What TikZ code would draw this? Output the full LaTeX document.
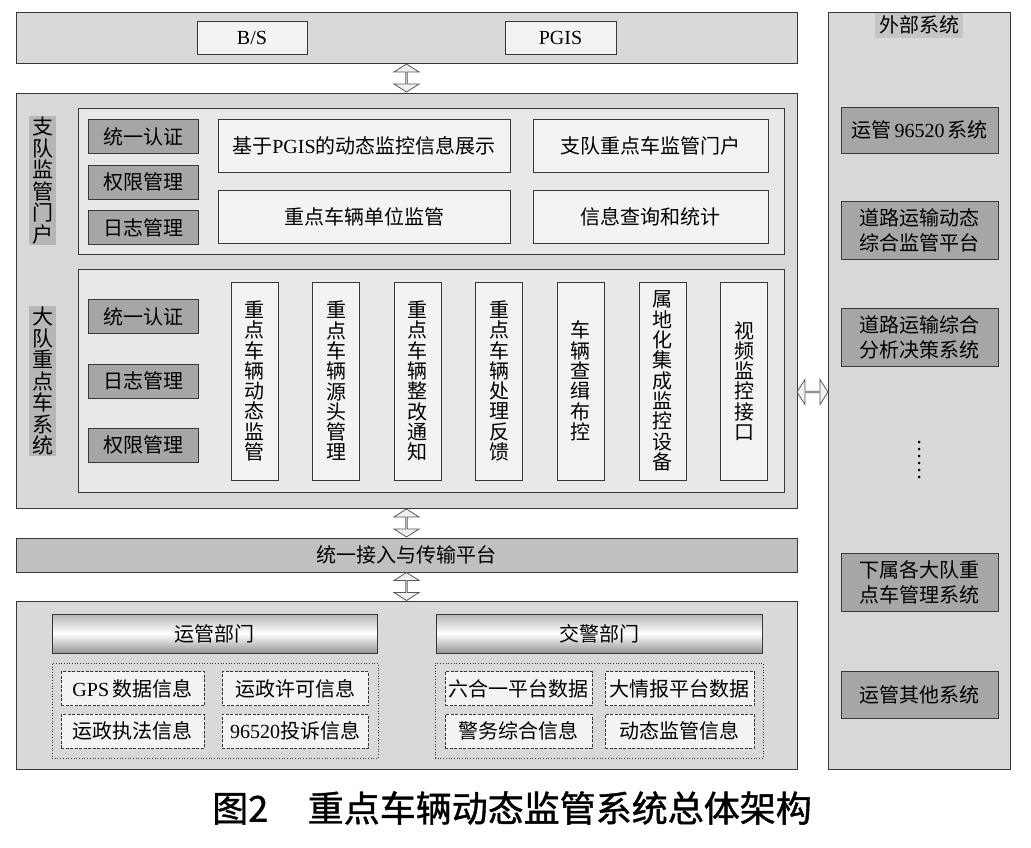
\documentclass[tikz,border=0pt]{standalone}
\usepackage{fontspec}
\setmainfont{Noto Sans CJK SC}
\newfontfamily\lat{Liberation Serif}
\newfontfamily\capfont[FakeBold=1.2]{Noto Sans CJK SC}
\usetikzlibrary{positioning,calc,shapes.arrows}
\definecolor{bgray}{RGB}{217,217,217}
\definecolor{igray}{RGB}{232,232,232}
\definecolor{lgray}{RGB}{243,243,243}
\definecolor{dgray}{RGB}{166,166,166}
\definecolor{mgray}{RGB}{182,182,182}
\definecolor{pgray}{RGB}{192,192,192}
\definecolor{lineg}{RGB}{55,55,55}
\tikzset{
     panel/.style={draw=lineg,line width=1pt,fill=bgray,inner sep=0pt},
     innerpanel/.style={draw=lineg,line width=1pt,fill=igray,inner sep=0pt},
     lbox/.style={draw=lineg,line width=1pt,fill=lgray,inner sep=0pt,align=center},
     dbox/.style={draw=lineg,line width=1pt,fill=dgray,inner sep=0pt,align=center},
     btn/.style={dbox,minimum width=110pt,minimum height=34pt},
     vbox/.style={lbox,minimum width=47pt,minimum height=198pt,text width=20pt,font=\fontsize{20}{20.3}\selectfont},
     vlabel/.style={fill=mgray,inner sep=0pt,minimum width=27pt,text width=21pt,align=center,font=\fontsize{21}{21.5}\selectfont},
     extbtn/.style={dbox,minimum width=157pt,font=\fontsize{20}{25}\selectfont},
     hdr/.style={draw=lineg,line width=1pt,top color=mgray,bottom color=dgray!90!black,middle color=white,minimum width=325pt,minimum height=39pt,inner sep=0pt},
     grp/.style={draw=lineg,dotted,line width=0.7pt,fill=bgray,minimum width=326pt,minimum height=95pt,inner sep=0pt},
     item/.style={draw=lineg,dash pattern=on 3pt off 1.5pt,line width=0.9pt,fill=lgray,minimum height=34pt,inner sep=0pt},
     fatarrow/.style={double arrow,draw=gray!70!black,fill=gray!12,line width=0.8pt,minimum height=28pt,minimum width=25pt,double arrow head extend=6.5pt,double arrow tip angle=115,inner sep=0pt}
     }

\begin{document}
\begin{tikzpicture}[x=1pt,y=-1pt,font=\fontsize{20}{24}\selectfont]
            \useasboundingbox (0,0) rectangle (1031,847);
            % Place nodes
            \node[panel,minimum width=781pt,minimum height=51pt] (bsbar) at (406.5,37.5) {};
            \node[lbox,minimum width=110pt,minimum height=33pt] (bs) at (252,37.5) {\lat B/S};
            \node[lbox,minimum width=111pt,minimum height=33pt] (pgis) at (560.5,37.5) {\lat PGIS};
            \node[panel,minimum width=781pt,minimum height=415pt] (mainbox) at (406.5,300.5) {};
            % zhidui
            \node[innerpanel,minimum width=706pt,minimum height=146pt] (zdpanel) at (431,181) {};
            \node[vlabel,minimum height=129pt] (zdlabel) at (42.5,180.5) {支\\队\\监\\管\\门\\户};
            \node[btn] (zdauth) at (143,136.5) {统一认证};
            \node[btn,below=10.5pt of zdauth] (zdperm) {权限管理};
            \node[btn,below=10.5pt of zdperm] (zdlog) {日志管理};
            \node[lbox,minimum width=292pt,minimum height=53pt] (zdshow) at (364,145.5) {基于{\lat PGIS}的动态监控信息展示};
            \node[lbox,minimum width=292pt,minimum height=53pt] (zdunit) at (364,216.5) {重点车辆单位监管};
            \node[lbox,minimum width=235pt,minimum height=53pt] (zdportal) at (650.5,145.5) {支队重点车监管门户};
            \node[lbox,minimum width=235pt,minimum height=53pt] (zdquery) at (650.5,216.5) {信息查询和统计};
            % dadui
            \node[innerpanel,minimum width=706pt,minimum height=223pt] (ddpanel) at (431,380.5) {};
            \node[vlabel,minimum height=150pt] (ddlabel) at (42.5,381) {大\\队\\重\\点\\车\\系\\统};
            \node[btn] (ddauth) at (143,316.5) {统一认证};
            \node[btn] (ddlog) at (143,381) {日志管理};
            \node[btn] (ddperm) at (143,445) {权限管理};
            \foreach \t [count=\i from 0] in {{重\\点\\车\\辆\\动\\态\\监\\管},{重\\点\\车\\辆\\源\\头\\管\\理},{重\\点\\车\\辆\\整\\改\\通\\知},{重\\点\\车\\辆\\处\\理\\反\\馈},{车\\辆\\查\\缉\\布\\控},{属\\地\\化\\集\\成\\监\\控\\设\\备},{视\\频\\监\\控\\接\\口}}
                \node[vbox] (mod\i) at (254.5+81.6*\i,381) {\t};
            % platform and sources
            \node[panel,fill=pgray,minimum width=781pt,minimum height=34pt] (platform) at (406.5,555) {统一接入与传输平台};
            \node[panel,minimum width=781pt,minimum height=168pt] (srcbox) at (406.5,685) {};
            \node[hdr] (yghead) at (214.5,633.5) {运管部门};
            \node[grp] (yggrp) at (215,710.5) {};
            \node[item,minimum width=143pt] (gps) at (132.5,688.5) {{\lat GPS}\,数据信息};
            \node[item,minimum width=146pt] (permit) at (295,688.5) {运政许可信息};
            \node[item,minimum width=143pt] (law) at (132.5,731) {运政执法信息};
            \node[item,minimum width=146pt] (cmpl) at (295,731) {{\lat 96520}投诉信息};
            \node[hdr,minimum width=326pt] (jjhead) at (599,633.5) {交警部门};
            \node[grp,minimum width=328pt] (jjgrp) at (599,710.5) {};
            \node[item,minimum width=147pt] (six) at (518.5,688.5) {六合一平台数据};
            \node[item,minimum width=149pt] (intel) at (679.5,688.5) {大情报平台数据};
            \node[item,minimum width=147pt] (police) at (518.5,731) {警务综合信息};
            \node[item,minimum width=149pt] (dyn) at (679.5,731) {动态监管信息};
            % external systems
            \node[panel,minimum width=182pt,minimum height=757pt] (extbox) at (919,390.5) {};
            \node[fill=mgray!80,inner sep=0pt,minimum width=88pt,minimum height=25pt] (extlabel) at (919,25) {外部系统};
            \node[extbtn,minimum height=46pt] (ext1) at (919.5,130) {运管{\lat\,96520\,}系统};
            \node[extbtn,minimum height=58pt] (ext2) at (919.5,230) {道路运输动态\\综合监管平台};
            \node[extbtn,minimum height=58pt] (ext3) at (919.5,337) {道路运输综合\\分析决策系统};
            \node[extbtn,minimum height=58pt] (ext4) at (919.5,582) {下属各大队重\\点车管理系统};
            \node[extbtn,minimum height=47pt] (ext5) at (919.5,694.5) {运管其他系统};
            \foreach \k in {0,...,5}
                \fill (919,442+7*\k) circle (1.5pt);
            % Draw edges
            \node[fatarrow,rotate=90] (a1) at ($(bsbar.south)!0.5!(mainbox.north)$) {};
            \node[fatarrow,rotate=90] (a2) at ($(mainbox.south)!0.5!(platform.north)$) {};
            \node[fatarrow,rotate=90] (a3) at ($(platform.south)!0.5!(srcbox.north)$) {};
            \node[fatarrow,minimum height=31pt] (a4) at ($(mainbox.east)!0.5!(extbox.west)+(0,46.5)$) {};
            % caption
            \node[font=\fontsize{36}{40}\capfont] (caption) at (512,808) {图2\hspace{1.1em}重点车辆动态监管系统总体架构};
        \end{tikzpicture}
\end{document}
